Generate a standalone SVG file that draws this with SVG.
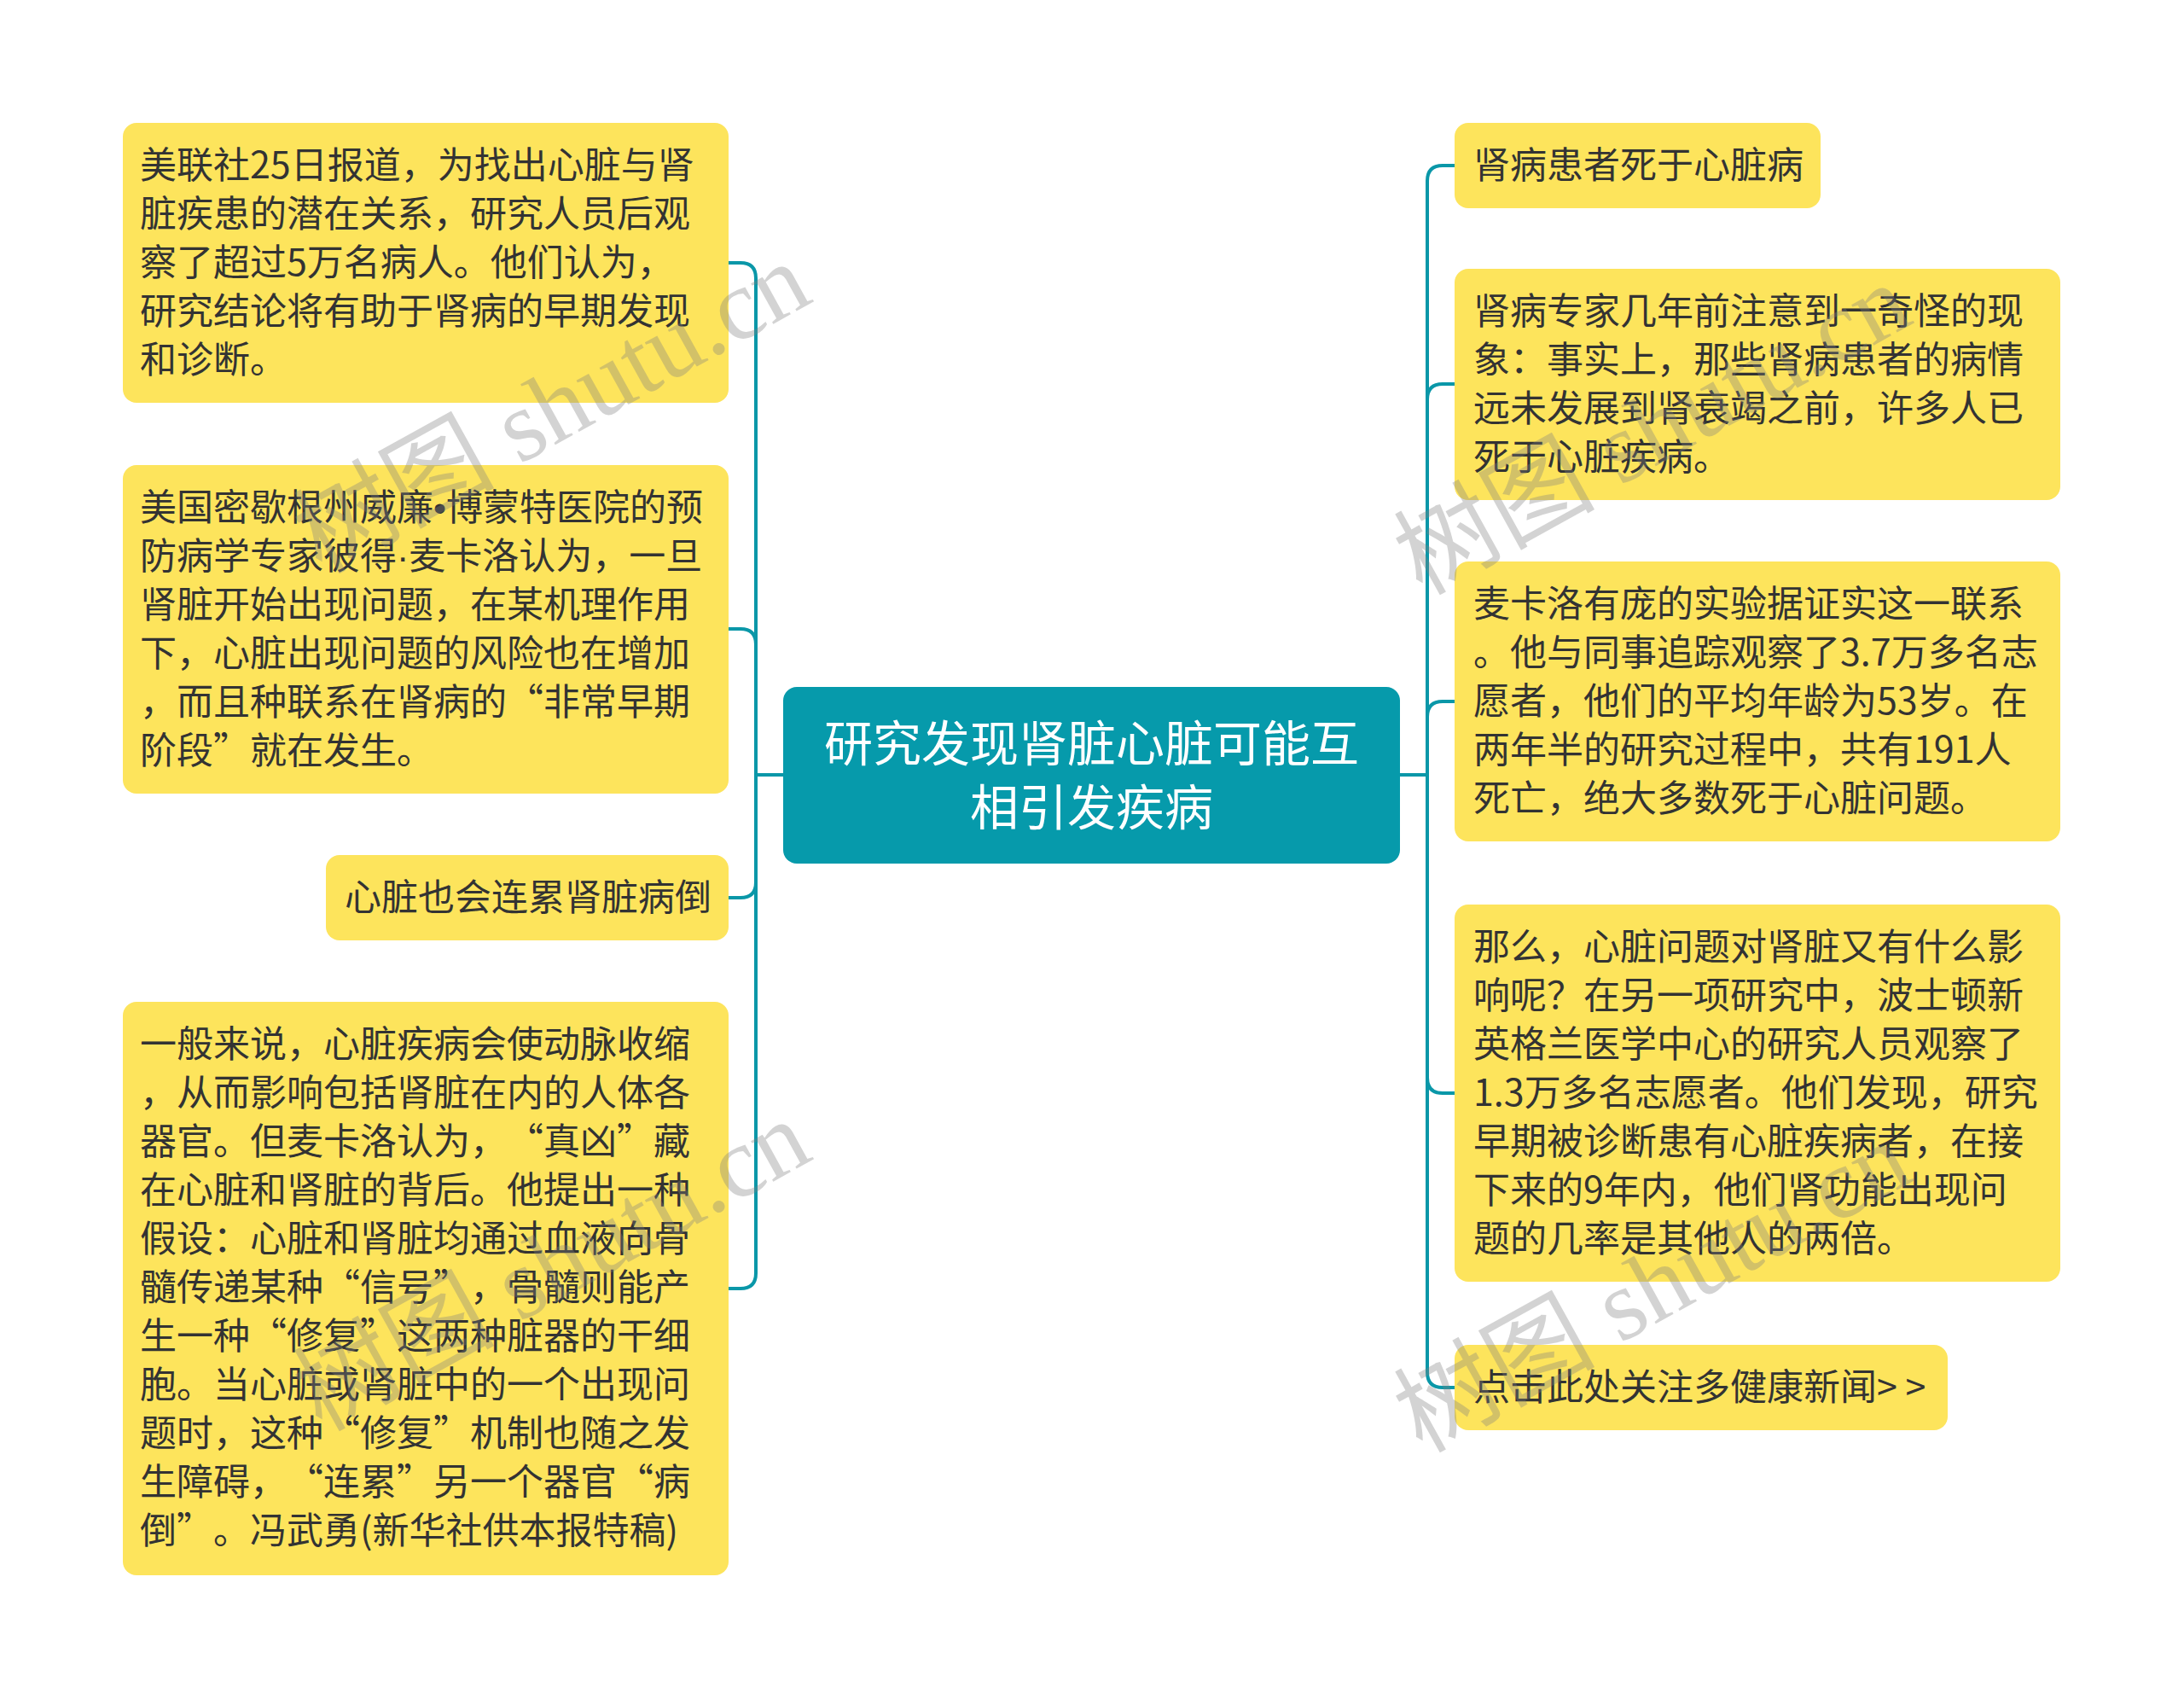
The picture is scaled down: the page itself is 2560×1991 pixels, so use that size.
<svg xmlns="http://www.w3.org/2000/svg" width="2560" height="1991" viewBox="0 0 2560 1991">
<style>
.bg{fill:#ffffff}
.sub{fill:#fde45c}
.root{fill:#069aab}
.t{font-family:"Noto Sans CJK SC","Noto Sans",sans-serif;font-size:43px;fill:#333333;text-spacing-trim:space-all}
.rt{font-family:"Noto Sans CJK SC","Noto Sans",sans-serif;font-size:57px;fill:#ffffff;text-anchor:middle}
.p{font-family:"Liberation Sans",sans-serif}
.c{fill:none;stroke:#0a97a8;stroke-width:4;stroke-linecap:round;stroke-linejoin:round}
.wm{font-family:"Liberation Serif","Noto Sans CJK SC",serif;font-size:118px;fill:#808080;opacity:0.34;text-anchor:middle}
</style>
<rect class="bg" x="0" y="0" width="2560" height="1991"/>
<g id="connectors">
<path class="c" d="M918,908 H886 V326 Q886,308 868,308 H854"/>
<path class="c" d="M918,908 H886 V755 Q886,737 868,737 H854"/>
<path class="c" d="M918,908 H886 V1034 Q886,1052 868,1052 H854"/>
<path class="c" d="M918,908 H886 V1492 Q886,1510 868,1510 H854"/>
<path class="c" d="M1641,908 H1673 V212 Q1673,194 1691,194 H1705"/>
<path class="c" d="M1641,908 H1673 V468 Q1673,450 1691,450 H1705"/>
<path class="c" d="M1641,908 H1673 V840 Q1673,822 1691,822 H1705"/>
<path class="c" d="M1641,908 H1673 V1263 Q1673,1281 1691,1281 H1705"/>
<path class="c" d="M1641,908 H1673 V1608 Q1673,1626 1691,1626 H1705"/>
</g>
<g id="root">
<rect class="root" x="918" y="805" width="723" height="207" rx="16"/>
<text class="rt"><tspan x="1279.5" y="892">研究发现肾脏心脏可能互</tspan><tspan x="1279.5" y="967">相引发疾病</tspan></text>
</g>
<g id="node-l1">
<rect class="sub" x="144" y="144" width="710" height="328" rx="16"/>
<text class="t"><tspan x="164" y="209">美联社25日报道，为找出心脏与肾</tspan><tspan x="164" y="266">脏疾患的潜在关系，研究人员后观</tspan><tspan x="164" y="323">察了超过5万名病人。他们认为，</tspan><tspan x="164" y="380">研究结论将有助于肾病的早期发现</tspan><tspan x="164" y="437">和诊断。</tspan></text>
</g>
<g id="node-l2">
<rect class="sub" x="144" y="545" width="710" height="385" rx="16"/>
<text class="t"><tspan x="164" y="610">美国密歇根州威廉<tspan class="p">•</tspan>博蒙特医院的预</tspan><tspan x="164" y="667">防病学专家彼得<tspan class="p">·</tspan>麦卡洛认为，一旦</tspan><tspan x="164" y="724">肾脏开始出现问题，在某机理作用</tspan><tspan x="164" y="781">下，心脏出现问题的风险也在增加</tspan><tspan x="164" y="838">，而且种联系在肾病的“非常早期</tspan><tspan x="164" y="895">阶段”就在发生。</tspan></text>
</g>
<g id="node-l3">
<rect class="sub" x="382" y="1002" width="472" height="100" rx="16"/>
<text class="t"><tspan x="404" y="1067">心脏也会连累肾脏病倒</tspan></text>
</g>
<g id="node-l4">
<rect class="sub" x="144" y="1174" width="710" height="672" rx="16"/>
<text class="t"><tspan x="164" y="1239">一般来说，心脏疾病会使动脉收缩</tspan><tspan x="164" y="1296">，从而影响包括肾脏在内的人体各</tspan><tspan x="164" y="1353">器官。但麦卡洛认为，“真凶”藏</tspan><tspan x="164" y="1410">在心脏和肾脏的背后。他提出一种</tspan><tspan x="164" y="1467">假设：心脏和肾脏均通过血液向骨</tspan><tspan x="164" y="1524">髓传递某种“信号”，骨髓则能产</tspan><tspan x="164" y="1581">生一种“修复”这两种脏器的干细</tspan><tspan x="164" y="1638">胞。当心脏或肾脏中的一个出现问</tspan><tspan x="164" y="1695">题时，这种“修复”机制也随之发</tspan><tspan x="164" y="1752">生障碍，“连累”另一个器官“病</tspan><tspan x="164" y="1809">倒”。冯武勇(新华社供本报特稿)</tspan></text>
</g>
<g id="node-r1">
<rect class="sub" x="1705" y="144" width="429" height="100" rx="16"/>
<text class="t"><tspan x="1727" y="209">肾病患者死于心脏病</tspan></text>
</g>
<g id="node-r2">
<rect class="sub" x="1705" y="315" width="710" height="271" rx="16"/>
<text class="t"><tspan x="1727" y="380">肾病专家几年前注意到一奇怪的现</tspan><tspan x="1727" y="437">象：事实上，那些肾病患者的病情</tspan><tspan x="1727" y="494">远未发展到肾衰竭之前，许多人已</tspan><tspan x="1727" y="551">死于心脏疾病。</tspan></text>
</g>
<g id="node-r3">
<rect class="sub" x="1705" y="658" width="710" height="328" rx="16"/>
<text class="t"><tspan x="1727" y="723">麦卡洛有庞的实验据证实这一联系</tspan><tspan x="1727" y="780">。他与同事追踪观察了3.7万多名志</tspan><tspan x="1727" y="837">愿者，他们的平均年龄为53岁。在</tspan><tspan x="1727" y="894">两年半的研究过程中，共有191人</tspan><tspan x="1727" y="951">死亡，绝大多数死于心脏问题。</tspan></text>
</g>
<g id="node-r4">
<rect class="sub" x="1705" y="1060" width="710" height="442" rx="16"/>
<text class="t"><tspan x="1727" y="1125">那么，心脏问题对肾脏又有什么影</tspan><tspan x="1727" y="1182">响呢？在另一项研究中，波士顿新</tspan><tspan x="1727" y="1239">英格兰医学中心的研究人员观察了</tspan><tspan x="1727" y="1296">1.3万多名志愿者。他们发现，研究</tspan><tspan x="1727" y="1353">早期被诊断患有心脏疾病者，在接</tspan><tspan x="1727" y="1410">下来的9年内，他们肾功能出现问</tspan><tspan x="1727" y="1467">题的几率是其他人的两倍。</tspan></text>
</g>
<g id="node-r5">
<rect class="sub" x="1705" y="1576" width="578" height="100" rx="16"/>
<text class="t" xml:space="preserve"><tspan x="1727" y="1641">点击此处关注多健康新闻&gt; &gt;</tspan></text>
</g>
<g id="watermark">
<text class="wm" transform="translate(666,513) rotate(-29)">树图 shutu.cn</text>
<text class="wm" transform="translate(1956,538) rotate(-29)">树图 shutu.cn</text>
<text class="wm" transform="translate(666,1518) rotate(-29)">树图 shutu.cn</text>
<text class="wm" transform="translate(1956,1543) rotate(-29)">树图 shutu.cn</text>
</g>
</svg>
